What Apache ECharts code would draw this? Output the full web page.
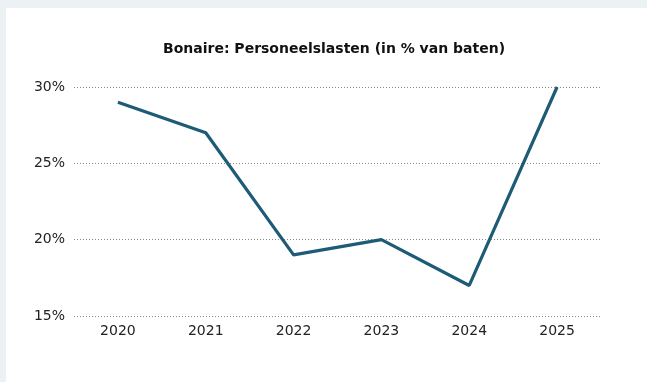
<!DOCTYPE html>
<html>
<head>
<meta charset="utf-8">
<script src="https://cdn.jsdelivr.net/npm/echarts@6/dist/echarts.min.js"></script>
<style>
  html, body { margin: 0; padding: 0; background: #ecf1f4; }
  #panel { position: absolute; left: 6px; top: 8px; width: 641px; height: 374px; background: #ffffff; }
  #chart { width: 641px; height: 374px; }
</style>
</head>
<body>
<div id="panel"><div id="chart"></div></div>
<script>
// Bonaire personnel costs as a share of income
const years = ['2020', '2021', '2022', '2023', '2024', '2025'];
const personeelslasten = [29, 27, 19, 20, 17, 30];
const yTicks = [15, 20, 25, 30];

const chart = echarts.init(document.getElementById('chart'));
chart.setOption({
  animation: false,
  title: {
    text: 'Bonaire: Personeelslasten (in % van baten)',
    left: 152,
    top: 29,
    textStyle: { fontFamily: 'DejaVu Sans', fontSize: 14, fontWeight: 'bold', color: '#111' }
  },
  grid: { left: 68, right: 46, top: 79, bottom: 66, containLabel: false },
  xAxis: {
    type: 'category',
    data: years,
    boundaryGap: true,
    axisLine: { show: false },
    axisTick: { show: false },
    axisLabel: { fontFamily: 'DejaVu Sans', fontSize: 14, color: '#222', margin: 8 }
  },
  yAxis: {
    type: 'value',
    min: yTicks[0],
    max: yTicks[yTicks.length - 1],
    interval: 5,
    axisLine: { show: false },
    axisTick: { show: false },
    axisLabel: {
      fontFamily: 'DejaVu Sans', fontSize: 14, color: '#222', margin: 9,
      formatter: v => v + '%'
    },
    splitLine: { lineStyle: { color: '#8a8a8a', type: [1, 2], width: 1 } }
  },
  series: [{
    type: 'line',
    data: personeelslasten,
    symbol: 'none',
    lineStyle: { color: '#1d5b76', width: 3.2 },
    itemStyle: { color: '#1d5b76' }
  }]
});
</script>
</body>
</html>
